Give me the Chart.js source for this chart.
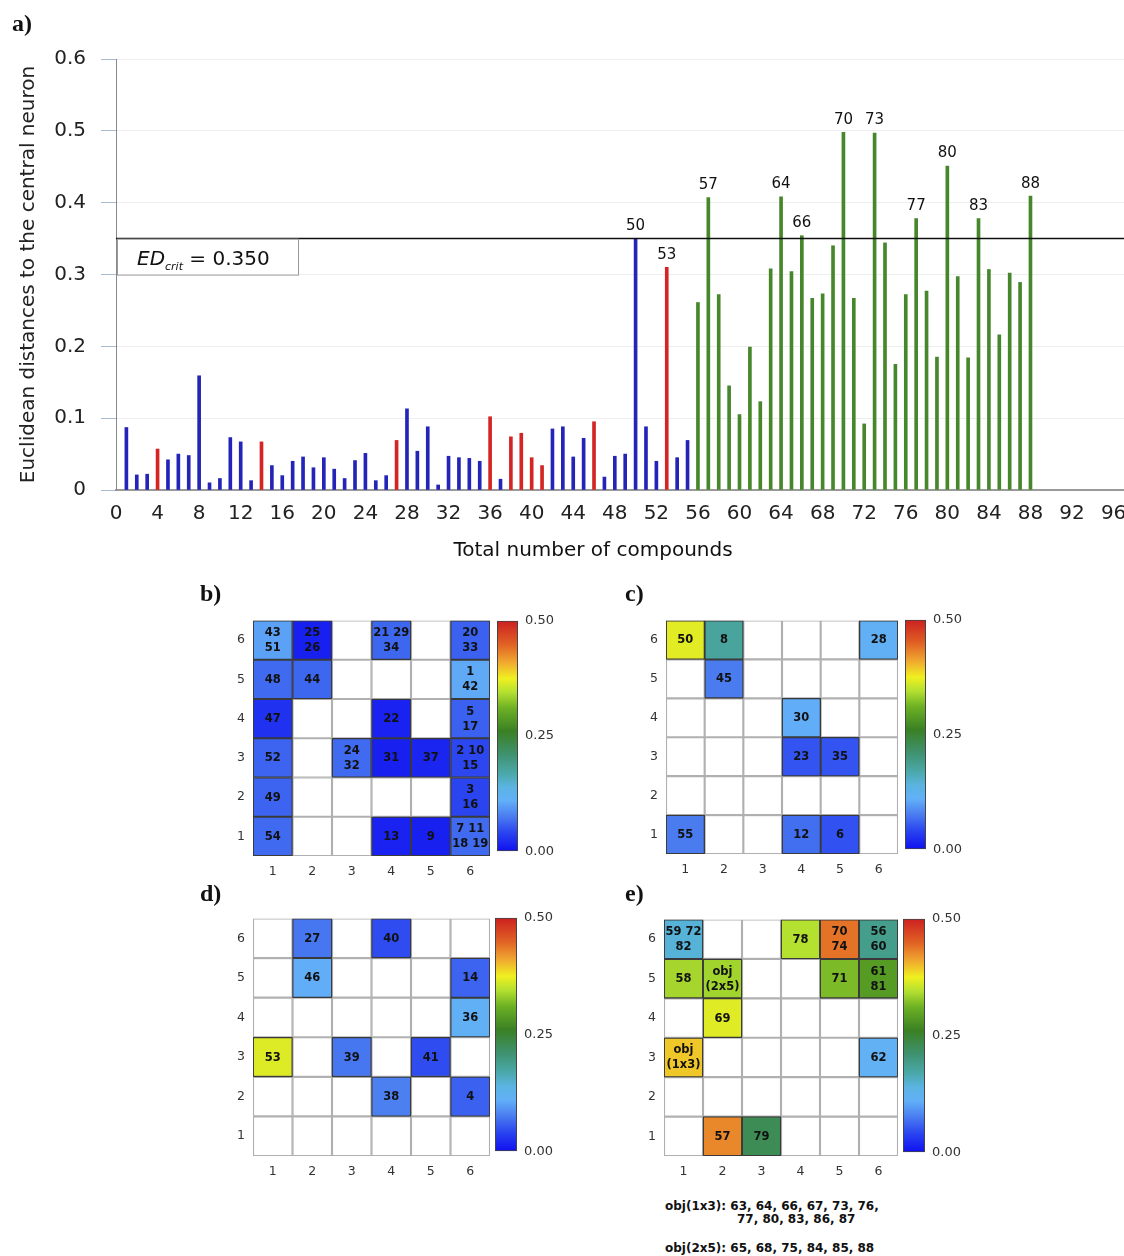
<!DOCTYPE html>
<html>
<head>
<meta charset="utf-8">
<script src="https://cdn.jsdelivr.net/npm/chart.js@4.4.1/dist/chart.umd.min.js"></script>
<style>
body { margin: 0; background: #fff; width: 1124px; height: 1256px; position: relative; overflow: hidden; }
canvas { position: absolute; }
.panel { position: absolute; font: bold 24px "Liberation Serif", serif; line-height: 24px; color: #111; }
.note { position: absolute; font: bold 12px "DejaVu Sans", sans-serif; line-height: 13px; color: #111; white-space: pre; }
</style>
</head>
<body>
<canvas id="bar" width="1124" height="575" style="left:0;top:0"></canvas>
<canvas id="mapB"></canvas><canvas id="barB"></canvas>
<canvas id="mapC"></canvas><canvas id="barC"></canvas>
<canvas id="mapD"></canvas><canvas id="barD"></canvas>
<canvas id="mapE"></canvas><canvas id="barE"></canvas>

<div class="panel" style="left:12px;top:11px">a)</div>
<div class="panel" style="left:200px;top:581px">b)</div>
<div class="panel" style="left:625px;top:581px">c)</div>
<div class="panel" style="left:200px;top:881px">d)</div>
<div class="panel" style="left:625px;top:881px">e)</div>
<div class="note" style="left:665px;top:1200px">obj(1x3): 63, 64, 66, 67, 73, 76,</div>
<div class="note" style="left:737px;top:1213px">77, 80, 83, 86, 87</div>
<div class="note" style="left:665px;top:1242px">obj(2x5): 65, 68, 75, 84, 85, 88</div>

<script>
// euclidean distance of compound 1..88 to the central neuron
const edValues = [
  0.087, 0.021, 0.022, 0.057, 0.042, 0.050, 0.048, 0.159, 0.010, 0.016,
  0.073, 0.067, 0.013, 0.067, 0.034, 0.020, 0.040, 0.046, 0.031, 0.045,
  0.029, 0.016, 0.041, 0.051, 0.013, 0.020, 0.069, 0.113, 0.054, 0.088,
  0.007, 0.047, 0.045, 0.044, 0.040, 0.102, 0.015, 0.074, 0.079, 0.045,
  0.034, 0.085, 0.088, 0.046, 0.072, 0.095, 0.018, 0.047, 0.050, 0.350,
  0.088, 0.040, 0.310, 0.045, 0.069, 0.261, 0.407, 0.272, 0.145, 0.105,
  0.199, 0.123, 0.308, 0.408, 0.304, 0.354, 0.267, 0.273, 0.340, 0.498,
  0.267, 0.092, 0.497, 0.344, 0.175, 0.272, 0.378, 0.277, 0.185, 0.451,
  0.297, 0.184, 0.378, 0.307, 0.216, 0.302, 0.289, 0.409
];
const labelled = [50, 53, 57, 64, 66, 70, 73, 77, 80, 83, 88];
const edCrit = 0.350;

const obj1x3 = [63, 64, 66, 67, 73, 76, 77, 80, 83, 86, 87];
const obj2x5 = [65, 68, 75, 84, 85, 88];

// [column, row, text ('|' = new line), cell value]
const cellsB = [
  [1, 6, '43|51', 0.10], [2, 6, '25|26', 0.012], [4, 6, '21 29|34', 0.062], [6, 6, '20|33', 0.058],
  [1, 5, '48', 0.064], [2, 5, '44', 0.062], [6, 5, '1|42', 0.105],
  [1, 4, '47', 0.025], [4, 4, '22', 0.014], [6, 4, '5|17', 0.058],
  [1, 3, '52', 0.06], [3, 3, '24|32', 0.064], [4, 3, '31', 0.012], [5, 3, '37', 0.016], [6, 3, '2 10|15', 0.042],
  [1, 2, '49', 0.06], [6, 2, '3|16', 0.04],
  [1, 1, '54', 0.064], [4, 1, '13', 0.014], [5, 1, '9', 0.012], [6, 1, '7 11|18 19', 0.064]
];
const cellsC = [
  [1, 6, '50', 0.368], [2, 6, '8', 0.178], [6, 6, '28', 0.112],
  [2, 5, '45', 0.075],
  [4, 4, '30', 0.108],
  [4, 3, '23', 0.05], [5, 3, '35', 0.05],
  [1, 1, '55', 0.075], [4, 1, '12', 0.066], [5, 1, '6', 0.048]
];
const cellsD = [
  [2, 6, '27', 0.072], [4, 6, '40', 0.045],
  [2, 5, '46', 0.108], [6, 5, '14', 0.06],
  [6, 4, '36', 0.112],
  [1, 3, '53', 0.365], [3, 3, '39', 0.072], [5, 3, '41', 0.045],
  [4, 2, '38', 0.078], [6, 2, '4', 0.058]
];
const cellsE = [
  [1, 6, '59 72|82', 0.145], [4, 6, '78', 0.345], [5, 6, '70|74', 0.44], [6, 6, '56|60', 0.19],
  [1, 5, '58', 0.338], [2, 5, 'obj|(2x5)', 0.336], [5, 5, '71', 0.318], [6, 5, '61|81', 0.288],
  [2, 4, '69', 0.366],
  [1, 3, 'obj|(1x3)', 0.395], [6, 3, '62', 0.115],
  [2, 1, '57', 0.428], [3, 1, '79', 0.228]
];
const gridLabels = ['1', '2', '3', '4', '5', '6'];
const barTicks = [0, 0.25, 0.5];

const cmapStops = [
  [0, '#1010f0'], [0.04, '#2a44f0'], [0.075, '#4a7cf0'], [0.11, '#62b0f8'], [0.14, '#5ab4e0'],
  [0.17, '#4aa8a8'], [0.21, '#3f9270'], [0.26, '#3a8024'], [0.31, '#6cb024'], [0.345, '#b4e030'],
  [0.375, '#f0f020'], [0.41, '#f0a830'], [0.45, '#e06024'], [0.5, '#cc2020']
];

Chart.defaults.font.family = '"DejaVu Sans", sans-serif';
Chart.defaults.color = '#222';

function hex(c) { return [1, 3, 5].map(i => parseInt(c.substr(i, 2), 16)); }
function cmap(v) {
  for (let i = 1; i < cmapStops.length; i++) {
    const [v1, c1] = cmapStops[i];
    if (v <= v1) {
      const [v0, c0] = cmapStops[i - 1];
      const t = (v - v0) / (v1 - v0);
      const a = hex(c0), b = hex(c1);
      return 'rgb(' + a.map((x, k) => Math.round(x + (b[k] - x) * t)).join(',') + ')';
    }
  }
  return cmapStops[cmapStops.length - 1][1];
}

// bar colour by which map the compound sits in
const idsOf = cells => cells.flatMap(c => c[2].split(/[ |]/).map(Number).filter(n => n > 0));
const redIds = idsOf(cellsD);
const greenIds = idsOf(cellsE).concat(obj1x3, obj2x5);
const barColors = edValues.map((v, i) =>
  redIds.includes(i + 1) ? '#d42424' : greenIds.includes(i + 1) ? '#47872b' : '#2424b8');

const barExtras = {
  id: 'barExtras',
  afterDatasetsDraw(chart) {
    const { ctx, chartArea, scales } = chart;
    const yc = scales.y.getPixelForValue(edCrit);
    ctx.save();
    // threshold line
    ctx.strokeStyle = '#111';
    ctx.lineWidth = 1.5;
    ctx.beginPath();
    ctx.moveTo(chartArea.left, yc);
    ctx.lineTo(chart.width, yc);
    ctx.stroke();
    // ED crit box
    ctx.fillStyle = '#fff';
    ctx.fillRect(chartArea.left + 1, yc + 1, 181, 35);
    ctx.strokeStyle = '#999';
    ctx.lineWidth = 1;
    ctx.strokeRect(chartArea.left + 1.5, yc + 0.5, 181, 36);
    ctx.fillStyle = '#111';
    ctx.textBaseline = 'alphabetic';
    ctx.textAlign = 'left';
    let x = chartArea.left + 21;
    ctx.font = 'italic 20px "DejaVu Sans"';
    ctx.fillText('ED', x, yc + 26);
    x += ctx.measureText('ED').width;
    ctx.font = 'italic 11px "DejaVu Sans"';
    ctx.fillText('crit', x, yc + 31);
    x += ctx.measureText('crit').width;
    ctx.font = '20px "DejaVu Sans"';
    ctx.fillText(' = 0.350', x, yc + 26);
    // labels above the tallest bars
    const meta = chart.getDatasetMeta(0);
    ctx.font = '15px "DejaVu Sans"';
    ctx.textAlign = 'center';
    ctx.textBaseline = 'bottom';
    labelled.forEach(n => {
      const el = meta.data[n - 1];
      ctx.fillText(String(n), el.x, el.y - 5);
    });
    // x title
    ctx.font = '20px "DejaVu Sans"';
    ctx.textBaseline = 'middle';
    ctx.fillText('Total number of compounds', 593, 551);
    ctx.restore();
  }
};

new Chart(document.getElementById('bar'), {
  type: 'bar',
  data: {
    datasets: [{
      data: edValues.map((v, i) => ({ x: i + 1, y: v })),
      backgroundColor: barColors,
      barThickness: 3
    }]
  },
  options: {
    responsive: false,
    animation: false,
    devicePixelRatio: 1,
    layout: { padding: { top: 59, left: 0, right: 0, bottom: 0 } },
    plugins: { legend: { display: false }, tooltip: { enabled: false } },
    scales: {
      x: {
        type: 'linear', min: 0, max: 97, offset: false,
        ticks: { stepSize: 4, includeBounds: false, autoSkip: false, maxRotation: 0, font: { size: 20 }, padding: 12 },
        grid: { display: false, drawTicks: false },
        border: { color: '#9a9a9a', width: 2 },
        afterFit: s => { s.height = 85; s.paddingLeft = 0; s.paddingRight = 0; }
      },
      y: {
        min: 0, max: 0.6,
        ticks: { stepSize: 0.1, font: { size: 20 }, padding: 15, callback: v => v === 0 ? '0' : v.toFixed(1) },
        grid: { color: '#eeeeee', tickColor: '#a9bad3', tickLength: 15 },
        border: { color: '#888', width: 1 },
        title: { display: true, text: 'Euclidean distances to the central neuron', font: { size: 20 }, padding: { top: 17 } },
        afterFit: s => { s.width = 116; }
      }
    }
  },
  plugins: [barExtras]
});

function gridChart(id, cells, gl, gt, gw, gh) {
  const cv = document.getElementById(id);
  cv.width = gw + 44;
  cv.height = gh + 40;
  cv.style.left = (gl - 40) + 'px';
  cv.style.top = (gt - 10) + 'px';
  const all = [];
  for (let r = 1; r <= 6; r++) gridLabels.forEach(c => all.push({ x: c, y: [r - 1, r] }));
  const cellText = {
    id: 'cellText',
    afterDatasetsDraw(chart) {
      const ctx = chart.ctx;
      const meta = chart.getDatasetMeta(0);
      ctx.save();
      ctx.font = 'bold 11.5px "DejaVu Sans"';
      ctx.fillStyle = '#111';
      ctx.textAlign = 'center';
      ctx.textBaseline = 'middle';
      meta.data.forEach((el, i) => {
        const lines = cells[i][2].split('|');
        const cy = (el.y + el.base) / 2;
        lines.forEach((t, k) => ctx.fillText(t, el.x, cy + (k - (lines.length - 1) / 2) * 15 + 0.5));
      });
      ctx.restore();
    }
  };
  new Chart(cv, {
    type: 'bar',
    data: {
      labels: gridLabels,
      datasets: [
        {
          data: cells.map(c => ({ x: String(c[0]), y: [c[1] - 1, c[1]] })),
          backgroundColor: cells.map(c => cmap(c[3])),
          borderColor: '#3a3a3a', borderWidth: 1.3, borderSkipped: false,
          grouped: false, barPercentage: 1, categoryPercentage: 1, order: 0
        },
        {
          data: all,
          backgroundColor: '#ffffff',
          borderColor: '#b0b0b0', borderWidth: 1.4, borderSkipped: false,
          grouped: false, barPercentage: 1, categoryPercentage: 1, order: 1
        }
      ]
    },
    options: {
      responsive: false,
      animation: false,
      devicePixelRatio: 1,
      layout: { padding: { top: 10, right: 4, left: 0, bottom: 0 } },
      plugins: { legend: { display: false }, tooltip: { enabled: false } },
      scales: {
        x: {
          ticks: { font: { size: 12.5 }, color: '#333', padding: 8 },
          grid: { display: false, drawTicks: false },
          border: { display: false },
          afterFit: s => { s.height = 30; }
        },
        y: {
          min: 0, max: 6,
          afterBuildTicks: a => { a.ticks = [0.5, 1.5, 2.5, 3.5, 4.5, 5.5].map(v => ({ value: v })); },
          ticks: { font: { size: 12.5 }, color: '#333', padding: 8, callback: v => v + 0.5 },
          grid: { display: false, drawTicks: false },
          border: { display: false },
          afterFit: s => { s.width = 40; }
        }
      }
    },
    plugins: [cellText]
  });
}

function colorBar(id, l, t, w, h) {
  const cv = document.getElementById(id);
  cv.width = w + 45;
  cv.height = h + 20;
  cv.style.left = l + 'px';
  cv.style.top = (t - 10) + 'px';
  new Chart(cv, {
    type: 'bar',
    data: {
      labels: [''],
      datasets: [{
        data: [[0, 0.5]],
        backgroundColor: c => {
          const { ctx, chartArea } = c.chart;
          if (!chartArea) return null;
          const g = ctx.createLinearGradient(0, chartArea.bottom, 0, chartArea.top);
          cmapStops.forEach(([v, col]) => g.addColorStop(v / 0.5, col));
          return g;
        },
        borderColor: '#444', borderWidth: 1.3, borderSkipped: false,
        barPercentage: 1, categoryPercentage: 1
      }]
    },
    options: {
      responsive: false,
      animation: false,
      devicePixelRatio: 1,
      layout: { padding: { top: 10, bottom: 10, left: 0, right: 0 } },
      plugins: { legend: { display: false }, tooltip: { enabled: false } },
      scales: {
        x: { display: false },
        y: {
          position: 'right', min: 0, max: 0.5,
          afterBuildTicks: a => { a.ticks = barTicks.map(v => ({ value: v })); },
          ticks: { font: { size: 13 }, color: '#333', padding: 7, callback: v => v.toFixed(2) },
          grid: { display: false, drawTicks: false },
          border: { display: false },
          afterFit: s => { s.width = 45; }
        }
      }
    }
  });
}

gridChart('mapB', cellsB, 253, 615, 237, 241);
gridChart('mapC', cellsC, 666, 615, 232, 239);
gridChart('mapD', cellsD, 253, 913, 237, 243);
gridChart('mapE', cellsE, 664, 914, 234, 242);
colorBar('barB', 497, 616, 21, 240);
colorBar('barC', 905, 615, 21, 239);
colorBar('barD', 495, 913, 22, 243);
colorBar('barE', 903, 914, 22, 243);
</script>
</body>
</html>
